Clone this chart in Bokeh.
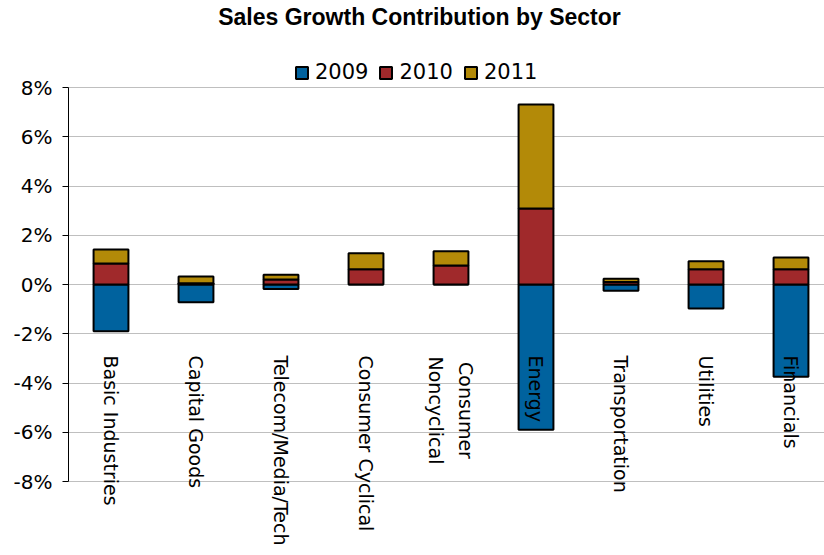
import math
import numpy as np
from bokeh.plotting import figure
from bokeh.models import (Range1d, FixedTicker, NumeralTickFormatter, Legend,
                          LegendItem, Label, ColumnDataSource)
from bokeh.core.properties import value
from bokeh.embed import file_html
from bokeh.resources import INLINE

# ---------------- data ----------------
sectors = ["Basic Industries", "Capital Goods", "Telecom/Media/Tech",
           "Consumer Cyclical", "Consumer\nNoncyclical", "Energy",
           "Transportation", "Utilities", "Financials"]
years = ["2009", "2010", "2011"]
v2009 = [-1.90, -0.72, -0.18, 0.00, 0.00, -5.90, -0.25, -0.97, -3.75]
v2010 = [0.85, 0.05, 0.20, 0.62, 0.77, 3.09, 0.10, 0.62, 0.62]
v2011 = [0.57, 0.27, 0.20, 0.65, 0.58, 4.22, 0.13, 0.32, 0.48]
y_ticks = [-8, -6, -4, -2, 0, 2, 4, 6, 8]
title_text = "Sales Growth Contribution by Sector"

colors = ["#00629E", "#A0292B", "#B38A08"]

# ---------------- layout helpers ----------------
W, H = 824, 555
LEFT = 68
TOP_PX, BOT_PX = 87, 481          # pixel rows of +8% and -8%
PX = (BOT_PX - TOP_PX) / 0.16     # pixels per unit (fraction)
Y_TOP = 0.08 + TOP_PX / PX
Y_BOT = -0.08 - (H - BOT_PX) / PX
CAT_PX = 85
X_END = (W - LEFT) / CAT_PX

def ydata(px):
    return Y_TOP - px / PX

p = figure(width=W, height=H, output_backend="svg", toolbar_location=None,
           title=None, x_axis_location=None,
           x_range=Range1d(0, X_END), y_range=Range1d(Y_BOT, Y_TOP),
           min_border_left=LEFT, min_border_right=0, min_border_top=0,
           min_border_bottom=0)
p.outline_line_color = None
p.background_fill_color = "white"
p.xgrid.visible = False

ticks = [t / 100 for t in y_ticks]
p.yaxis.ticker = FixedTicker(ticks=ticks)
p.ygrid.ticker = FixedTicker(ticks=ticks)
p.ygrid.grid_line_color = "#BFBFBF"
p.ygrid.grid_line_width = 1
p.yaxis.formatter = NumeralTickFormatter(format="0%")
p.yaxis.bounds = (-0.08, 0.08)
p.yaxis.axis_line_color = "black"
p.yaxis.major_tick_line_color = "black"
p.yaxis.major_tick_out = 6
p.yaxis.major_tick_in = 0
p.yaxis.minor_tick_line_color = None
p.yaxis.major_label_standoff = 10
p.yaxis.major_label_text_font = "DejaVu Sans"
p.yaxis.major_label_text_font_size = "20px"
p.yaxis.major_label_text_color = "black"

# ---------------- stacked bars ----------------
xs = np.arange(len(sectors)) + 0.5
pos_base = np.zeros(len(sectors))
neg_base = np.zeros(len(sectors))
renderers = []
for vals, col in zip([v2009, v2010, v2011], colors):
    v = np.array(vals) / 100.0
    bottom = np.where(v >= 0, pos_base, neg_base + v)
    top = np.where(v >= 0, pos_base + v, neg_base)
    pos_base = np.where(v >= 0, pos_base + v, pos_base)
    neg_base = np.where(v < 0, neg_base + v, neg_base)
    src = ColumnDataSource(dict(x=xs, top=top, bottom=bottom))
    r = p.vbar(x="x", top="top", bottom="bottom", width=0.41, source=src,
               fill_color=col, line_color="black", line_width=2)
    renderers.append(r)

# ---------------- category labels ----------------
single = [i for i, s in enumerate(sectors) if "\n" not in s]
multi = [i for i, s in enumerate(sectors) if "\n" in s]
src1 = ColumnDataSource(dict(x=[xs[i] for i in single],
                             y=[ydata(355)] * len(single),
                             t=[sectors[i] for i in single]))
p.text(x="x", y="y", text="t", source=src1, angle=-math.pi / 2,
       text_align="left", text_baseline="middle",
       text_font=value("DejaVu Sans"), text_font_size="19px",
       text_color="black")
src2 = ColumnDataSource(dict(x=[xs[i] for i in multi],
                             y=[ydata(410)] * len(multi),
                             t=[sectors[i] for i in multi]))
p.text(x="x", y="y", text="t", source=src2, angle=-math.pi / 2,
       text_align="center", text_baseline="middle",
       text_font=value("DejaVu Sans"), text_font_size="19px",
       text_line_height=1.4, text_color="black")

# ---------------- legend ----------------
legend = Legend(items=[LegendItem(label=y, renderers=[r])
                       for y, r in zip(years, renderers)],
                orientation="horizontal", location=(294 - LEFT, H - 84),
                glyph_width=15, glyph_height=15, label_standoff=6,
                spacing=10, padding=0, margin=0,
                border_line_color=None, background_fill_alpha=0,
                label_text_font="DejaVu Sans", label_text_font_size="21px",
                label_text_color="black")
p.add_layout(legend, "center")

# ---------------- title ----------------
title = Label(x=(419 - LEFT) / CAT_PX, y=ydata(16), text=title_text,
              text_align="center", text_baseline="middle",
              text_font="Liberation Sans", text_font_style="bold",
              text_font_size="23px", text_color="black")
p.add_layout(title)

open("out.html", "w").write(file_html(p, INLINE))
